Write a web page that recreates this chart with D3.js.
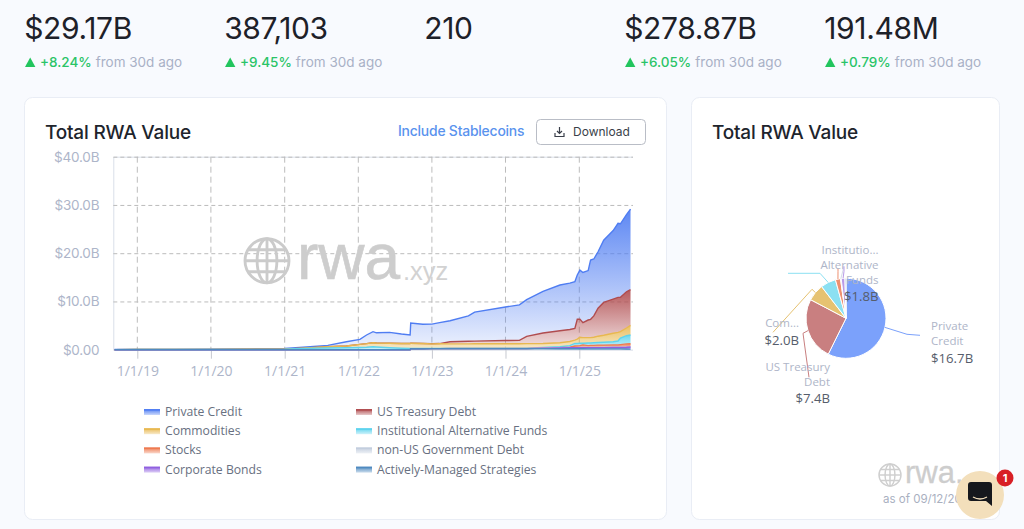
<!DOCTYPE html>
<html><head><meta charset="utf-8">
<script src="https://cdnjs.cloudflare.com/ajax/libs/d3/7.8.5/d3.min.js"></script>
<style>html,body{margin:0;padding:0;background:#f8fafe;overflow:hidden}svg{display:block}</style>
</head><body><svg id="c" width="1024" height="529"></svg>
<script>
const dates=["2018-09-10","2019-01-01","2019-07-01","2020-01-01","2020-07-01","2021-01-01","2021-04-02","2021-08-03","2021-11-03","2022-01-09","2022-02-11","2022-03-15","2022-04-01","2022-06-05","2022-08-03","2022-09-15","2022-09-18","2022-11-17","2023-01-01","2023-02-08","2023-04-01","2023-07-01","2023-08-01","2024-01-01","2024-03-10","2024-04-15","2024-07-05","2024-09-27","2024-11-15","2024-12-10","2024-12-22","2025-01-04","2025-01-19","2025-02-14","2025-02-26","2025-03-14","2025-04-04","2025-05-02","2025-06-18","2025-07-12","2025-07-24","2025-08-23","2025-09-12"];
const activelyManaged=[0,0,0,0,0,0,0,0,0,0,0,0,0,0,0,0,.2,.2,.22,.22,.22,.22,.22,.22,.22,.22,.22,.2,.2,.2,.2,.2,.2,.18,.18,.18,.18,.18,.18,.18,.18,.15,.12];
const corporateBonds=[0,0,0,0,0,0,0,0,0,0,0,0,0,0,0,0,0,0,0,0,0,0,0,0,0,.01,.1,.18,.2,.2,.2,.22,.22,.24,.24,.24,.25,.26,.27,.28,.28,.35,.44];
const nonUSGov=[0,0,0,0,0,0,0,0,0,0,0,0,0,0,0,0,0,0,0,0,.02,.02,.02,.03,.03,.03,.03,.03,.03,.04,.04,.04,.04,.05,.05,.05,.05,.06,.06,.07,.08,.08,.08];
const stocks=[0,0,0,0,0,0,0,0,0,0,0,0,0,0,0,0,0,0,0,0,0,0,0,0,0,0,.01,.01,.07,.33,.36,.39,.54,.38,.43,.43,.47,.45,.49,.47,.51,.62,.6];
const institutional=[.02,.03,.04,.05,.07,.1,.28,.35,.4,.45,.5,.6,.55,.4,.3,.25,.05,.05,.05,.05,.05,.05,.05,.05,.06,.06,.1,.18,.35,.53,.5,.5,.35,.55,.5,.55,.55,.6,.66,.8,1.35,1.7,1.8];
const commodities=[0,0,0,.01,.02,.02,.05,.27,.37,.65,.75,.85,.85,.95,1.0,1.05,1.1,1.05,.93,.95,.91,.92,.93,.94,.93,.94,.84,.85,.85,.7,.9,1.22,1.15,1.1,1.1,1.12,1.3,1.45,1.74,1.8,1.33,1.6,2.0];
const usTreasury=[0,0,0,0,0,0,0,0,0,0,0,0,0,0,0,0,0,0,.04,.05,.46,.54,.56,.66,.69,1.5,2.15,2.49,2.5,2.43,4.1,3.73,3.1,3.65,3.8,4.43,5.8,6.8,7.1,7.25,7.12,7.5,7.4];
const privateCredit=[.01,.02,.03,.05,.08,.15,.17,.28,.89,1.05,1.8,2.28,2.1,2.25,1.95,1.75,4.17,3.96,4.06,4.33,4.34,5.25,6.02,6.94,7.37,7.6,8.65,9.46,9.6,9.67,9.2,10.2,10.4,10.25,12.3,11.8,11.7,12.9,14.2,15.35,15.25,16.0,16.7];
const seriesNames=["Private Credit","US Treasury Debt","Commodities","Institutional Alternative Funds","Stocks","non-US Government Debt","Corporate Bonds","Actively-Managed Strategies"];
const seriesColors=["#4f7df2","#b04c4f","#e8b850","#5dd3ee","#ee7a50","#c3cede","#9060e0","#4f8ac0"];
const seriesValues=[privateCredit,usTreasury,commodities,institutional,stocks,nonUSGov,corporateBonds,activelyManaged];
const yTicks=[0,10,20,30,40];
const xTickDates=["2019-01-01","2020-01-01","2021-01-01","2022-01-01","2023-01-01","2024-01-01","2025-01-01"];
const statValues=["$29.17B","387,103","210","$278.87B","191.48M"];
const statChanges=["+8.24%","+9.45%",null,"+6.05%","+0.79%"];

const toDate=s=>{const [a,b,c]=s.split("-").map(Number);return new Date(a,b-1,c)};
const svg=d3.select("#c");
const SANS="Inter, 'Noto Sans', sans-serif", NOTO="'Open Sans','Noto Sans',sans-serif";
const defs=svg.append("defs");

/* stat row */
statValues.forEach((v,i)=>{
  const x=25+i*200;
  svg.append("text").attr("x",x-.8).attr("y",39).attr("font-family",SANS).attr("font-size",30).attr("letter-spacing",-.35).attr("fill","#1d2129").text(v);
  if(statChanges[i]){
    svg.append("path").attr("d",`M${x},67 L${x+5.2},57.5 L${x+10.4},67 Z`).attr("fill","#22c55e");
    const t=svg.append("text").attr("x",x+15).attr("y",67).attr("font-family",SANS).attr("font-size",13.5);
    t.append("tspan").attr("fill","#2ac467").attr("font-weight",500).text(statChanges[i]);
    t.append("tspan").attr("fill","#a9b1c6").attr("dx",4).text("from 30d ago");
  }
});

/* cards */
[[24.5,642],[691.5,308]].forEach(([x,w])=>{
  svg.append("rect").attr("x",x).attr("y",97.5).attr("width",w).attr("height",422).attr("rx",8).attr("fill","#fff").attr("stroke","#e9edf5");
});
[45,712].forEach(x=>svg.append("text").attr("x",x).attr("y",139).attr("font-family",SANS).attr("font-size",19).attr("font-weight",500).attr("letter-spacing",-.2).attr("fill","#20242c").text("Total RWA Value"));
svg.append("text").attr("x",398).attr("y",136).attr("font-family",SANS).attr("font-size",13.9).attr("font-weight",500).attr("letter-spacing",-.2).attr("fill","#5a93ee").text("Include Stablecoins");
svg.append("rect").attr("x",536.5).attr("y",119.5).attr("width",109).attr("height",25).attr("rx",4).attr("fill","#fff").attr("stroke","#b9bdc6");
svg.append("text").attr("x",573).attr("y",136).attr("font-family",SANS).attr("font-size",12).attr("fill","#3a3f4a").text("Download");
svg.append("path").attr("d","M559.5,127 v6 M557,131 l2.5,2.5 l2.5,-2.5 M555,133 v3.5 h9 v-3.5").attr("fill","none").attr("stroke","#3a3f4a").attr("stroke-width",1.2);

/* watermark helper */
function globe(cx,cy,r,col){
  const g=svg.append("g").attr("fill","none").attr("stroke",col).attr("stroke-width",r*.13);
  g.append("circle").attr("cx",cx).attr("cy",cy).attr("r",r);
  g.append("ellipse").attr("cx",cx).attr("cy",cy).attr("rx",r*.45).attr("ry",r);
  g.append("line").attr("x1",cx).attr("x2",cx).attr("y1",cy-r).attr("y2",cy+r);
  g.append("line").attr("x1",cx-r).attr("x2",cx+r).attr("y1",cy).attr("y2",cy);
  g.append("path").attr("d",`M${cx-r*.85},${cy-r*.5} H${cx+r*.85} M${cx-r*.85},${cy+r*.5} H${cx+r*.85}`);
}

/* area chart */
const x=d3.scaleTime().domain([new Date(2019,0,1),new Date(2025,0,1)]).range([137.3,579.3]);
const y=d3.scaleLinear().domain([0,40]).range([349.7,156.7]);
const X0=113.3,X1=633;
const rows=dates.map((d,i)=>{const r={date:toDate(d)};seriesNames.forEach((n,k)=>r[n]=seriesValues[k][i]);return r});
const stacked=d3.stack().keys(seriesNames.slice().reverse())(rows);

/* grid */
const gy=svg.append("g").attr("transform",`translate(${X0},0)`).call(d3.axisLeft(y).tickValues(yTicks).tickSize(-(X1-X0)).tickPadding(14).tickFormat(d=>d===0?"$0.00":`$${d.toFixed(1)}B`));
gy.select(".domain").attr("stroke","#d9dfe9");
gy.selectAll(".tick line").attr("stroke","#bcbcbc").attr("stroke-dasharray","4 3");
gy.selectAll(".tick").filter(d=>d===0).select("line").attr("stroke","#e6e9f0").attr("stroke-dasharray",null);
gy.selectAll("text").attr("font-family",SANS).attr("font-size",13.5).attr("letter-spacing",-.2).attr("fill","#adb5c9");
const gx=svg.append("g").attr("transform",`translate(0,${y(0)})`).call(d3.axisBottom(x).tickValues(xTickDates.map(toDate)).tickSize(9).tickPadding(7).tickFormat(d3.timeFormat("%-m/%-d/%y")));
gx.select(".domain").remove();
gx.selectAll(".tick line").attr("stroke","#c6c9d0");
gx.selectAll("text").attr("font-family",NOTO).attr("font-size",14).attr("fill","#adb5c9");
xTickDates.forEach(s=>{const px=x(toDate(s));svg.append("line").attr("x1",px).attr("x2",px).attr("y1",y(40)).attr("y2",y(0)).attr("stroke","#bcbcbc").attr("stroke-dasharray","6 4")});

/* watermark under series */
globe(267,260.7,22,"#cbcbcb");
svg.append("text").attr("x",297).attr("y",279).attr("font-family","'Liberation Sans',sans-serif").attr("font-size",64).attr("fill","#cdcdcd").attr("stroke","#cdcdcd").attr("stroke-width",.6).text("rwa");
svg.append("text").attr("x",403).attr("y",280).attr("font-family","'Liberation Sans',sans-serif").attr("font-size",25.5).attr("fill","#d2d2d2").text(".xyz");

/* gradients and layers */
const area=d3.area().x(d=>x(d.data.date)).y0(d=>y(d[0])).y1(d=>y(d[1]));
const topLine=d3.line().x(d=>x(d.data.date)).y(d=>y(d[1]));
const layers=stacked.slice().reverse();
const gradTop=[.92,.92,.9,.9,.9,.9,.9,.9], gradBottom=[.1,.15,.3,.3,.3,.3,.3,.3];
layers.forEach((l,i)=>{
  const col=seriesColors[i];
  const gr=defs.append("linearGradient").attr("id","g"+i).attr("x1",0).attr("x2",0).attr("y1",0).attr("y2",1);
  gr.append("stop").attr("offset",0).attr("stop-color",col).attr("stop-opacity",gradTop[i]);
  gr.append("stop").attr("offset",1).attr("stop-color",col).attr("stop-opacity",gradBottom[i]);
  const lg=defs.append("linearGradient").attr("id","lg"+i).attr("x1",0).attr("x2",0).attr("y1",0).attr("y2",1);
  lg.append("stop").attr("offset",0).attr("stop-color",col);
  lg.append("stop").attr("offset",1).attr("stop-color",col).attr("stop-opacity",.3);
  svg.append("path").datum(l).attr("d",area).attr("fill",`url(#g${i})`);
  svg.append("path").datum(l).attr("d",topLine).attr("fill","none").attr("stroke",col).attr("stroke-width",1.4);
});

/* legend */
seriesNames.forEach((n,i)=>{
  const col=i%2, row=(i-col)/2;
  const lx=col?356:144, ly=411.5+row*19.2;
  svg.append("rect").attr("x",lx).attr("y",ly-2.5).attr("width",16).attr("height",6).attr("fill",`url(#lg${i})`);
  svg.append("line").attr("x1",lx).attr("x2",lx+16).attr("y1",ly-1.5).attr("y2",ly-1.5).attr("stroke",seriesColors[i]).attr("stroke-width",1.4);
  svg.append("text").attr("x",lx+21).attr("y",ly+4.5).attr("font-family",NOTO).attr("font-size",12.2).attr("fill","#687081").text(n);
});

/* pie */
const cx=846,cy=318.3,R=40;
const pieColors=["#7ba1fb","#c97f80","#e6c271","#8be0f2","#ee9070","#d5dce8","#b99be8","#7fa9d0"];
const pieValues=seriesValues.map(a=>a[a.length-1]);
const arcs=d3.pie().sort(null)(pieValues);
const arc=d3.arc().innerRadius(0).outerRadius(R);
const pg=svg.append("g").attr("transform",`translate(${cx},${cy})`);
pg.selectAll("path").data(arcs).join("path").attr("d",arc).attr("fill",(d,i)=>pieColors[i]).attr("stroke","#fff").attr("stroke-width",1);
/* leader lines: first vertex from slice mid-angle, rest are label layout */
const leaderLayout={0:[[61,16],[74,17]],1:[[-43,15],[-37,59]],2:[[-34,-29],[-73,14]],3:[[-26,-45],[-58,-45]],4:[[-8,-47],[-8,-50]],5:[[-3,-48],[-3,-52]],6:[[-2,-47],[-2,-52]]};
Object.entries(leaderLayout).forEach(([k,pts])=>{
  const a=arcs[k],m=(a.startAngle+a.endAngle)/2;
  const p0=[Math.sin(m)*R,-Math.cos(m)*R];
  pg.append("path").attr("d",d3.line()([p0,...pts])).attr("fill","none").attr("stroke",pieColors[k]).attr("stroke-width",1);
});
function fmtB(v){return `$${v.toFixed(1)}B`}
const labels=[
 {i:3,x:878.5,anchor:"end",lines:["Institutio...","Alternative","Funds"],ys:[254,269,284],vy:301},
 {i:0,x:931,anchor:"start",lines:["Private","Credit"],ys:[330,345],vy:363},
 {i:2,x:799,anchor:"end",lines:["Com..."],ys:[327],vy:345},
 {i:1,x:830,anchor:"end",lines:["US Treasury","Debt"],ys:[371,386],vy:403}];
labels.forEach(l=>{
  l.lines.forEach((s,j)=>svg.append("text").attr("x",l.x).attr("y",l.ys[j]).attr("text-anchor",l.anchor).attr("font-family",NOTO).attr("font-size",11.5).attr("fill","#aeb5c8").text(s));
  svg.append("text").attr("x",l.x).attr("y",l.vy).attr("text-anchor",l.anchor).attr("font-family",NOTO).attr("font-size",13.2).attr("fill","#565d6b").text(fmtB(pieValues[l.i]));
});

/* card 2 watermark */
globe(890,475,11,"#cfcfcf");
svg.append("text").attr("x",905).attr("y",483).attr("font-family","'Liberation Sans',sans-serif").attr("font-size",31).attr("fill","#cdcdcd").attr("stroke","#cdcdcd").attr("stroke-width",.3).text("rwa.");
svg.append("text").attr("x",883).attr("y",503).attr("font-family",SANS).attr("font-size",11.5).attr("fill","#a9b0bf").text("as of 09/12/2025");

/* chat bubble */
svg.append("circle").attr("cx",980).attr("cy",495).attr("r",24).attr("fill","#f3dfbb");
svg.append("path").attr("d","M971,482 h18 a3,3 0 0 1 3,3 v21 l-6,-5 h-15 a3,3 0 0 1 -3,-3 v-13 a3,3 0 0 1 3,-3 z").attr("fill","#16181d");
svg.append("path").attr("d","M973,497 q7,4 14,0").attr("fill","none").attr("stroke","#f3dfbb").attr("stroke-width",1.4);
svg.append("circle").attr("cx",1005).attr("cy",478).attr("r",8.5).attr("fill","#d81f26");
svg.append("text").attr("x",1005).attr("y",482).attr("text-anchor","middle").attr("font-family",SANS).attr("font-size",11).attr("font-weight",700).attr("fill","#fff").text("1");
</script></body></html>
